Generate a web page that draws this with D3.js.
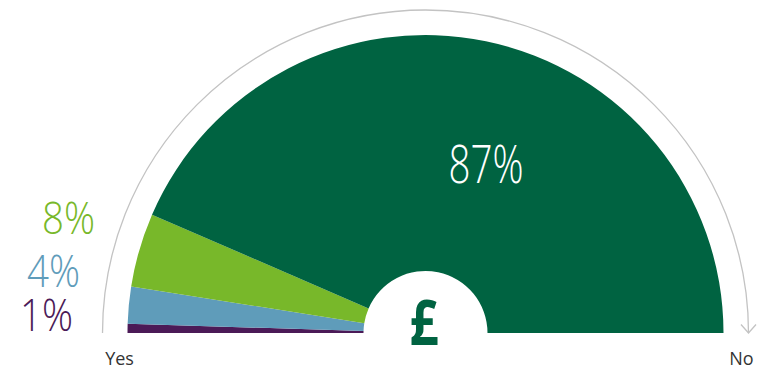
<!DOCTYPE html>
<html>
<head>
<meta charset="utf-8">
<script src="https://cdn.jsdelivr.net/npm/d3@7"></script>
<style>
  html, body { margin: 0; padding: 0; background: #fff; }
  svg { display: block; }
  text { font-family: "Open Sans", "Noto Sans", sans-serif; }
</style>
</head>
<body>
<svg id="chart" width="758" height="371"></svg>
<script>
// Share of answers, from the "Yes" end (left) round to the "No" end (right)
const shareLabels = ["1%", "4%", "8%", "87%"];
const shareValues = [1, 4, 8, 87];
const shareColors = ["#4b1a57", "#5f9cba", "#78b82a", "#006341"];
const endLabels = ["Yes", "No"];

const svg = d3.select("#chart");
const cx = 425.5, cy = 333;
const outerR = 298, innerR = 62, guideR = 323;

const g = svg.append("g").attr("transform", `translate(${cx},${cy})`);

// half-donut, left to right
const pie = d3.pie()
  .sort(null)
  .value(d => d)
  .startAngle(-Math.PI / 2)
  .endAngle(Math.PI / 2);

const arc = d3.arc().innerRadius(innerR).outerRadius(outerR);
const slices = pie(shareValues);

g.selectAll("path.slice")
  .data(slices)
  .join("path")
  .attr("class", "slice")
  .attr("d", arc)
  .attr("fill", (d, i) => shareColors[i]);

// thin guide arc with an arrowhead at the "No" end
const guide = d3.path();
guide.arc(0, 0, guideR, Math.PI, 2 * Math.PI);
g.append("path")
  .attr("d", guide.toString())
  .attr("fill", "none")
  .attr("stroke", "#c3c3c3")
  .attr("stroke-width", 1.3);

const tip = [guideR, 0];
g.append("path")
  .attr("d", d3.line()([[tip[0] - 7.5, tip[1] - 8.5], tip, [tip[0] + 7.5, tip[1] - 8.5]]))
  .attr("fill", "none")
  .attr("stroke", "#c3c3c3")
  .attr("stroke-width", 1.3);

// end labels
g.selectAll("text.end")
  .data(endLabels)
  .join("text")
  .attr("class", "end")
  .attr("x", (d, i) => (i === 0 ? -guideR + 17 : guideR - 7))
  .attr("y", 32)
  .attr("text-anchor", "middle")
  .attr("font-size", 18)
  .attr("fill", "#333")
  .text(d => d);

// small-share labels stacked on the left, big share inside its slice
const sideLabelPos = [[-352.5, -2], [-345.5, -46], [-330.5, -99]];
slices.slice(0, 3).forEach((s, i) => {
  g.append("text")
    .attr("x", sideLabelPos[i][0])
    .attr("y", sideLabelPos[i][1])
    .attr("text-anchor", "end")
    .attr("font-size", 45)
    .attr("font-weight", 350)
    .attr("textLength", 53)
    .attr("lengthAdjust", "spacingAndGlyphs")
    .attr("fill", shareColors[i])
    .text(shareLabels[i]);
});

g.append("text")
  .attr("x", 60.5)
  .attr("y", -150)
  .attr("text-anchor", "middle")
  .attr("font-size", 53)
  .attr("font-weight", 350)
  .attr("textLength", 75)
  .attr("lengthAdjust", "spacingAndGlyphs")
  .attr("fill", "#fff")
  .text(shareLabels[3]);

// pound sign in the hub
g.append("text")
  .attr("x", -1.5)
  .attr("y", 12)
  .attr("text-anchor", "middle")
  .attr("font-size", 62)
  .attr("font-weight", 700)
  .attr("textLength", 29)
  .attr("lengthAdjust", "spacingAndGlyphs")
  .attr("fill", shareColors[3])
  .text("£");
</script>
</body>
</html>
